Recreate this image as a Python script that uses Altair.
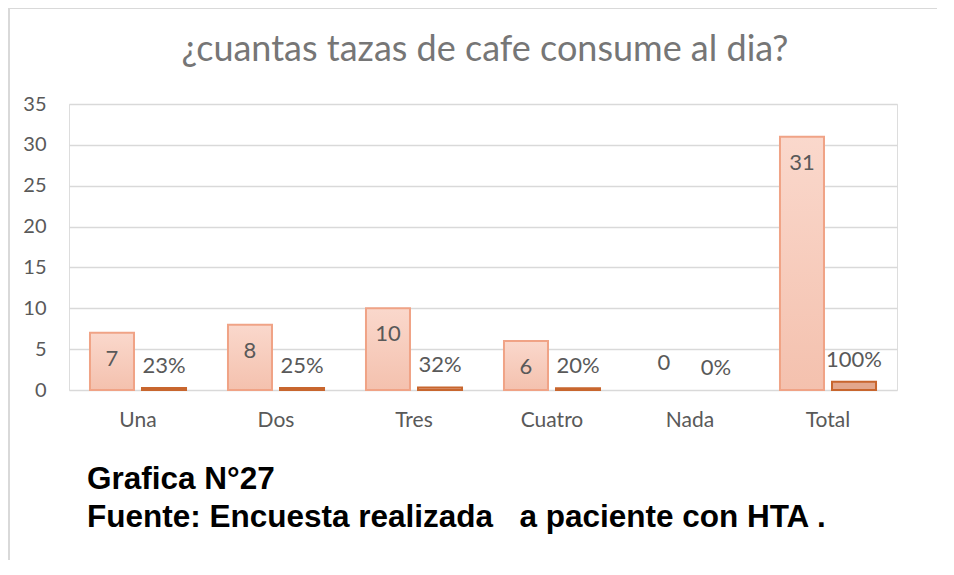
import altair as alt
import pandas as pd

categories = ["Una", "Dos", "Tres", "Cuatro", "Nada", "Total"]
counts = [7, 8, 10, 6, 0, 31]
percents = [0.23, 0.25, 0.32, 0.20, 0.0, 1.00]
count_labels = ["7", "8", "10", "6", "0", "31"]
percent_labels = ["23%", "25%", "32%", "20%", "0%", "100%"]
series_names = ["Cantidad", "Porcentaje"]
y_ticks = [0, 5, 10, 15, 20, 25, 30, 35]

title_text = "¿cuantas tazas de cafe consume al dia?"
note_lines = ["Grafica N°27", "Fuente: Encuesta realizada\u00a0\u00a0\u00a0a paciente con HTA ."]

rows = []
for c, v, l in zip(categories, counts, count_labels):
    rows.append({"categoria": c, "serie": series_names[0], "valor": v, "etiqueta": l})
for c, v, l in zip(categories, percents, percent_labels):
    rows.append({"categoria": c, "serie": series_names[1], "valor": v, "etiqueta": l})
df = pd.DataFrame(rows)

FONT = "Lato"
GRAY = "#595959"

x_enc = alt.X("categoria:N", sort=categories,
              scale=alt.Scale(paddingInner=0.304, paddingOuter=0.152),
              axis=alt.Axis(title=None, labelAngle=0, domain=False, ticks=False,
                            labelFont=FONT, labelFontSize=21, labelColor=GRAY,
                            labelPadding=19))
xo_enc = alt.XOffset("serie:N", scale=alt.Scale(domain=series_names, paddingInner=0.154))
y_enc = alt.Y("valor:Q", scale=alt.Scale(domain=[0, 35], nice=False),
              axis=alt.Axis(title=None, values=y_ticks, domain=False, ticks=False,
                            labelFont=FONT, labelFontSize=20, labelColor=GRAY,
                            labelPadding=23, gridColor="#D9D9D9", gridWidth=1.5))

base = alt.Chart(df).encode(x=x_enc, xOffset=xo_enc, y=y_enc)

grad1 = alt.Gradient(gradient="linear",
                     stops=[alt.GradientStop(color="#FAD8CC", offset=0),
                            alt.GradientStop(color="#F4C1AE", offset=1)],
                     x1=1, x2=1, y1=0, y2=1)

bars1 = base.transform_filter(
    (alt.datum.serie == series_names[0]) & (alt.datum.valor > 0)
).mark_bar(fill=grad1, stroke="#F0A386", strokeWidth=2)
bars2 = base.transform_filter(
    (alt.datum.serie == series_names[1]) & (alt.datum.valor > 0)
).mark_bar(fill="#E3A78C", stroke="#C8662E", strokeWidth=2)

lab1 = base.transform_filter(
    (alt.datum.serie == series_names[0]) & (alt.datum.valor > 0)
).mark_text(font=FONT, fontSize=22, color=GRAY, baseline="middle", dy=26).encode(text="etiqueta:N")
lab1z = base.transform_filter(
    (alt.datum.serie == series_names[0]) & (alt.datum.valor <= 0)
).mark_text(font=FONT, fontSize=22, color=GRAY, baseline="middle", dy=-27).encode(text="etiqueta:N")
lab2 = base.transform_filter(alt.datum.serie == series_names[1]).mark_text(
    font=FONT, fontSize=22, color=GRAY, baseline="middle", dy=-22).encode(text="etiqueta:N")

one = pd.DataFrame({"k": [0]})
title = alt.Chart(one).mark_text(font=FONT, fontSize=36, color="#767676", align="center",
                                 baseline="middle").encode(
    x=alt.value(416), y=alt.value(-54), text=alt.value(title_text))
note1 = alt.Chart(one).mark_text(font="Liberation Sans", fontWeight="bold", fontSize=31.5,
                                 color="#000000", align="left", baseline="alphabetic").encode(
    x=alt.value(18), y=alt.value(385), text=alt.value(note_lines[0]))
note2 = alt.Chart(one).mark_text(font="Liberation Sans", fontWeight="bold", fontSize=31.5,
                                 color="#000000", align="left", baseline="alphabetic").encode(
    x=alt.value(18), y=alt.value(423), text=alt.value(note_lines[1]))

border_left = alt.Chart(one).mark_rule(color="#D9D9D9", strokeWidth=2).encode(
    x=alt.value(-60), y=alt.value(-96), y2=alt.value(470))
border_top = alt.Chart(one).mark_rule(color="#D9D9D9", strokeWidth=2).encode(
    x=alt.value(-60), x2=alt.value(880), y=alt.value(-96))

chart = alt.layer(border_left, border_top, bars1, bars2, lab1, lab1z, lab2, title, note1, note2).properties(
    width=828, height=286,
    autosize=alt.AutoSizeParams(type="none"),
    padding={"left": 61, "top": 96, "right": 40, "bottom": 170},
).configure_view(stroke=None).configure(background="white")

chart.save("out.html", embed_options={"renderer": "svg", "actions": False})
